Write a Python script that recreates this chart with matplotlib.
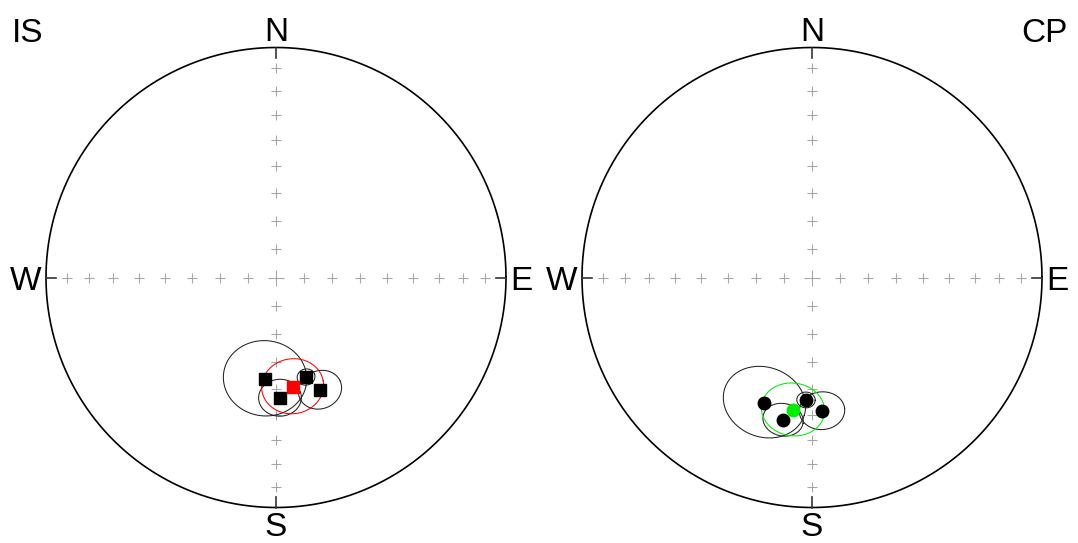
import numpy as np
import matplotlib
matplotlib.use('Agg')
import matplotlib.pyplot as plt

plt.rcParams['font.family'] = ['Liberation Sans', 'DejaVu Sans']

# site directions (declination, inclination, alpha95)
is_dec = [186.2, 178.1, 163.2, 158.6]
is_inc = [53.4, 46.5, 52.7, 46.4]
is_a95 = [14.0, 7.0, 3.0, 7.2]
is_mean = [171.3, 50.3, 10.3]

cp_dec = [200.9, 191.5, 182.8, 175.7]
cp_inc = [41.2, 36.9, 45.7, 41.4]
cp_a95 = [13.5, 6.4, 3.0, 7.3]
cp_mean = [188.2, 41.4, 10.2]

grid_inc = [10, 20, 30, 40, 50, 60, 70, 80]


def to_xyz(dec, inc):
  d = np.radians(dec); i = np.radians(inc)
  return np.array([np.cos(i)*np.cos(d), np.cos(i)*np.sin(d), np.sin(i)])


def project(v):
  # equal-area (Schmidt) lower hemisphere, x=east, y=north
  n, e, dn = v[0], v[1], np.abs(v[2])
  k = 1.0/np.sqrt(1.0 + dn)
  return e*k, n*k


def cone(dec, inc, a95, npts=200):
  v = to_xyz(dec, inc)
  tmp = np.array([0, 0, 1.0]) if abs(v[2]) < 0.9 else np.array([1.0, 0, 0])
  u1 = np.cross(v, tmp); u1 /= np.linalg.norm(u1)
  u2 = np.cross(v, u1)
  a = np.radians(a95)
  phi = np.linspace(0, 2*np.pi, npts)
  pts = (np.cos(a)*v[:, None] + np.sin(a)*(np.cos(phi)*u1[:, None] + np.sin(phi)*u2[:, None]))
  return project(pts)


def stereonet(ax):
  t = np.linspace(0, 2*np.pi, 400)
  ax.plot(np.cos(t), np.sin(t), color='black', lw=1.2)
  r = [np.sqrt(2)*np.sin(np.radians(90-i)/2) for i in grid_inc]
  r = np.array(r)
  gx = np.concatenate([r, -r, 0*r, 0*r])
  gy = np.concatenate([0*r, 0*r, r, -r])
  ax.plot(gx, gy, '+', color='#a8a8a8', ms=6.5, mew=0.8, ls='none')
  ax.plot([0], [0], '+', color='#a8a8a8', ms=11, mew=0.8)
  for dx, dy in [(1, 0), (-1, 0), (0, 1), (0, -1)]:
    ax.plot([dx, dx*0.955], [dy, dy*0.955], color='#333333', lw=1.2)
  fs = 24
  ax.text(0, 1.03, 'N', ha='center', va='baseline', fontsize=fs)
  ax.text(0, -1.02, 'S', ha='center', va='top', fontsize=fs)
  ax.text(-1.02, 0, 'W', ha='right', va='center_baseline', fontsize=fs)
  ax.text(1.02, 0, 'E', ha='left', va='center_baseline', fontsize=fs)
  ax.set_xlim(-1.2, 1.2); ax.set_ylim(-1.2, 1.2)
  ax.set_aspect('equal')
  ax.axis('off')


def sites(ax, dec, inc, a95, mean, marker, mcol):
  for d, i, a in zip(dec, inc, a95):
    x, y = cone(d, i, a)
    ax.plot(x, y, color='#222222', lw=0.75)
  x, y = cone(mean[0], mean[1], mean[2])
  ax.plot(x, y, color=mcol, lw=0.75)
  px, py = project(to_xyz(np.array(dec), np.array(inc)))
  ax.plot(px, py, marker, color='black', ms=9, ls='none')
  mx, my = project(to_xyz(mean[0], mean[1]))
  ax.plot([mx], [my], marker, color=mcol, ms=9)


W, H = 1078, 543
R = 230.0
fig = plt.figure(figsize=(W/100, H/100), dpi=100)
size = 2.4*R
cy = H - 277.5
ax1 = fig.add_axes([(276-size/2)/W, (cy-size/2)/H, size/W, size/H])
ax2 = fig.add_axes([(812-size/2)/W, (cy-size/2)/H, size/W, size/H])
stereonet(ax1)
stereonet(ax2)
sites(ax1, is_dec, is_inc, is_a95, is_mean, 's', '#ff0000')
sites(ax2, cp_dec, cp_inc, cp_a95, cp_mean, 'o', '#00ee00')
fig.text(12/W, 1-42/H, 'IS', ha='left', va='baseline', fontsize=24)
fig.text(1068/W, 1-42/H, 'CP', ha='right', va='baseline', fontsize=24)

fig.savefig('out.png', dpi=100, facecolor='white')
